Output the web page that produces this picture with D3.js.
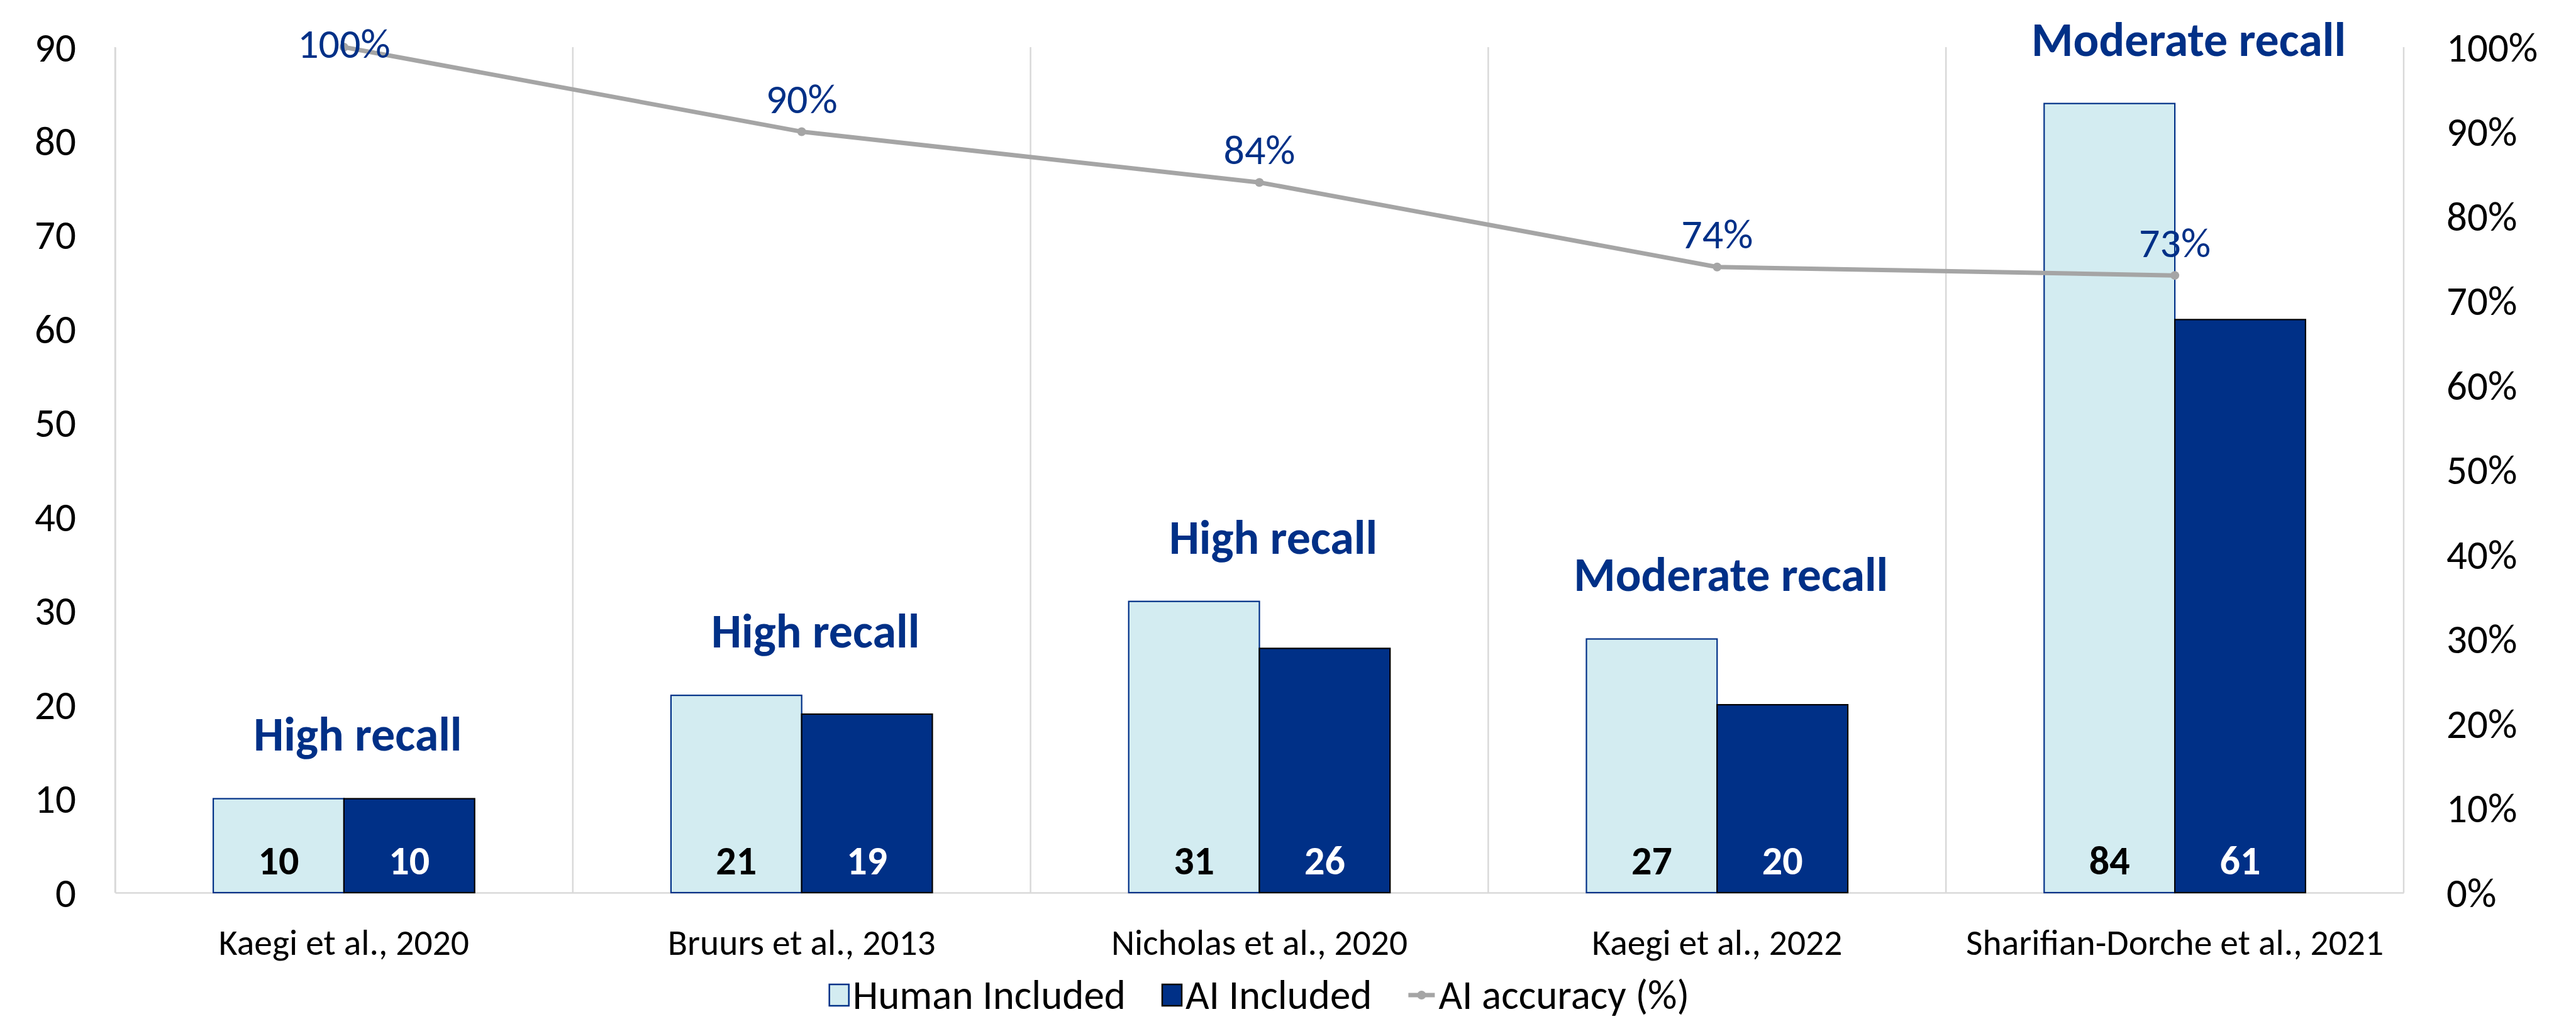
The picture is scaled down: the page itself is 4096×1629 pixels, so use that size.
<!DOCTYPE html>
<html>
<head>
<meta charset="utf-8">
<script src="https://cdn.jsdelivr.net/npm/d3@7"></script>
<style>
body { margin: 0; background: #fff; }
text { font-family: Carlito, Calibri, Lato, sans-serif; }
</style>
</head>
<body>
<div id="chart"></div>
<script>
// chart data
var studies = ["Kaegi et al., 2020", "Bruurs et al., 2013", "Nicholas et al., 2020", "Kaegi et al., 2022", "Sharifian-Dorche et al., 2021"];
var humanIncluded = [10, 21, 31, 27, 84];
var aiIncluded = [10, 19, 26, 20, 61];
var aiAccuracy = [1.00, 0.90, 0.84, 0.74, 0.73];
var recallLabels = ["High recall", "High recall", "High recall", "Moderate recall", "Moderate recall"];
var countTicks = [0, 10, 20, 30, 40, 50, 60, 70, 80, 90];
var percentTicks = [0, 0.1, 0.2, 0.3, 0.4, 0.5, 0.6, 0.7, 0.8, 0.9, 1.0];
var seriesNames = ["Human Included", "AI Included", "AI accuracy (%)"];

var navy = "#003087";
var lightBlue = "#D3ECF1";
var gray = "#A5A5A5";
var gridGray = "#D9D9D9";

// size of the picture and of the plot area
var size = { width: 4096, height: 1629 };
var plot = { left: 183, right: 3822, top: 75, bottom: 1420 };

var svg = d3.select("#chart").append("svg")
	.attr("width", size.width)
	.attr("height", size.height)
	.style("background", "#fff");

// scales
var x0 = d3.scaleBand()
	.domain(studies)
	.range([plot.left, plot.right])
	.padding(0);

var x1 = d3.scaleBand()
	.domain(["human", "ai"])
	.range([x0.bandwidth() * 0.2145, x0.bandwidth() * 0.7855]);

var yCount = d3.scaleLinear()
	.domain([0, 90])
	.range([plot.bottom, plot.top]);

var yPct = d3.scaleLinear()
	.domain([0, 1])
	.range([plot.bottom, plot.top]);

// vertical gridlines at the category borders
var borders = studies.map(function(d) { return x0(d); }).concat([plot.right]);
svg.append("g").selectAll("line")
	.data(borders)
	.enter()
	.append("line")
	.attr("x1", function(d) { return d; })
	.attr("x2", function(d) { return d; })
	.attr("y1", plot.top)
	.attr("y2", plot.bottom)
	.attr("stroke", gridGray)
	.attr("stroke-width", 2.5);

// left axis (counts)
var leftAxis = svg.append("g")
	.attr("transform", "translate(" + plot.left + ",0)")
	.call(d3.axisLeft(yCount).tickValues(countTicks).tickSize(0).tickPadding(62));
leftAxis.select(".domain").attr("stroke", gridGray).attr("stroke-width", 2.5);
leftAxis.selectAll("text")
	.style("font-size", "65px")
	.attr("fill", "#000")
	.attr("dy", "0.34em");

// right axis (percent)
var rightAxis = svg.append("g")
	.attr("transform", "translate(" + plot.right + ",0)")
	.call(d3.axisRight(yPct).tickValues(percentTicks).tickSize(0).tickPadding(68).tickFormat(d3.format(".0%")));
rightAxis.select(".domain").remove();
rightAxis.selectAll("text")
	.style("font-size", "65px")
	.attr("fill", "#000")
	.attr("dy", "0.34em");

// bottom axis (studies)
var bottomAxis = svg.append("g")
	.attr("transform", "translate(0," + plot.bottom + ")")
	.call(d3.axisBottom(x0).tickSize(0).tickPadding(58));
bottomAxis.select(".domain").attr("stroke", gridGray).attr("stroke-width", 2.5);
bottomAxis.selectAll("text")
	.style("font-size", "57.5px")
	.attr("fill", "#000")
	.attr("dy", "0.34em")
	.attr("y", 79);

// bars
var barData = studies.map(function(s, i) {
	return [
		{ study: s, key: "human", value: humanIncluded[i] },
		{ study: s, key: "ai", value: aiIncluded[i] }
	];
});

var groups = svg.append("g").selectAll("g")
	.data(barData)
	.enter()
	.append("g")
	.attr("transform", function(d) { return "translate(" + x0(d[0].study) + ",0)"; });

groups.selectAll("rect")
	.data(function(d) { return d; })
	.enter()
	.append("rect")
	.attr("x", function(d) { return x1(d.key); })
	.attr("y", function(d) { return yCount(d.value); })
	.attr("width", x1.bandwidth())
	.attr("height", function(d) { return plot.bottom - yCount(d.value); })
	.attr("fill", function(d) { return d.key == "human" ? lightBlue : navy; })
	.attr("stroke", function(d) { return d.key == "human" ? navy : "#000"; })
	.attr("stroke-width", 2.2);

// values inside the base of the bars
groups.selectAll("text.value")
	.data(function(d) { return d; })
	.enter()
	.append("text")
	.attr("class", "value")
	.attr("x", function(d) { return x1(d.key) + x1.bandwidth() / 2; })
	.attr("y", plot.bottom - 51)
	.attr("dy", "0.34em")
	.attr("text-anchor", "middle")
	.style("font-size", "64px")
	.style("font-weight", "bold")
	.attr("fill", function(d) { return d.key == "human" ? "#000" : "#fff"; })
	.text(function(d) { return d.value; });

// recall notes above each group
svg.append("g").selectAll("text")
	.data(studies)
	.enter()
	.append("text")
	.attr("x", function(d) { return x0(d) + x0.bandwidth() / 2 + 22; })
	.attr("y", function(d, i) { return yCount(Math.max(humanIncluded[i], aiIncluded[i])) - 102; })
	.attr("dy", "0.34em")
	.attr("text-anchor", "middle")
	.style("font-size", "76px")
	.style("font-weight", "bold")
	.attr("fill", navy)
	.text(function(d, i) { return recallLabels[i]; });

// accuracy line
var lineData = studies.map(function(s, i) { return { study: s, value: aiAccuracy[i] }; });
var line = d3.line()
	.x(function(d) { return x0(d.study) + x0.bandwidth() / 2; })
	.y(function(d) { return yPct(d.value); });

svg.append("path")
	.datum(lineData)
	.attr("d", line)
	.attr("fill", "none")
	.attr("stroke", gray)
	.attr("stroke-width", 7)
	.attr("stroke-linejoin", "round");

svg.append("g").selectAll("circle")
	.data(lineData)
	.enter()
	.append("circle")
	.attr("cx", function(d) { return x0(d.study) + x0.bandwidth() / 2; })
	.attr("cy", function(d) { return yPct(d.value); })
	.attr("r", 7)
	.attr("fill", gray);

// accuracy labels (kept inside the chart at the top)
svg.append("g").selectAll("text")
	.data(lineData)
	.enter()
	.append("text")
	.attr("x", function(d) { return x0(d.study) + x0.bandwidth() / 2; })
	.attr("y", function(d) { return Math.max(yPct(d.value) - 52, 70); })
	.attr("dy", "0.34em")
	.attr("text-anchor", "middle")
	.style("font-size", "66px")
	.attr("fill", navy)
	.text(function(d) { return d3.format(".0%")(d.value); });

// legend
var legend = svg.append("g");
var legendY = 1583;
var cursor = 0;
seriesNames.forEach(function(name, i) {
	var item = legend.append("g").attr("transform", "translate(" + cursor + ",0)");
	var symbolWidth = 31;
	if (i < 2) {
		item.append("rect")
			.attr("x", 0)
			.attr("y", legendY - 17)
			.attr("width", 31)
			.attr("height", 34)
			.attr("fill", i == 0 ? lightBlue : navy)
			.attr("stroke", i == 0 ? navy : "#000")
			.attr("stroke-width", 2.5);
	} else {
		symbolWidth = 42;
		item.append("line")
			.attr("x1", 0).attr("x2", 42)
			.attr("y1", legendY).attr("y2", legendY)
			.attr("stroke", gray)
			.attr("stroke-width", 7);
		item.append("circle")
			.attr("cx", 21).attr("cy", legendY).attr("r", 7)
			.attr("fill", gray);
	}
	var t = item.append("text")
		.attr("x", symbolWidth + 6)
		.attr("y", legendY)
		.attr("dy", "0.34em")
		.style("font-size", "65px")
		.attr("fill", "#000")
		.text(name);
	cursor += symbolWidth + 6 + t.node().getComputedTextLength() + 58;
});
var legendWidth = cursor - 58;
legend.attr("transform", "translate(" + ((plot.left + plot.right) / 2 - legendWidth / 2) + ",0)");
</script>
</body>
</html>
